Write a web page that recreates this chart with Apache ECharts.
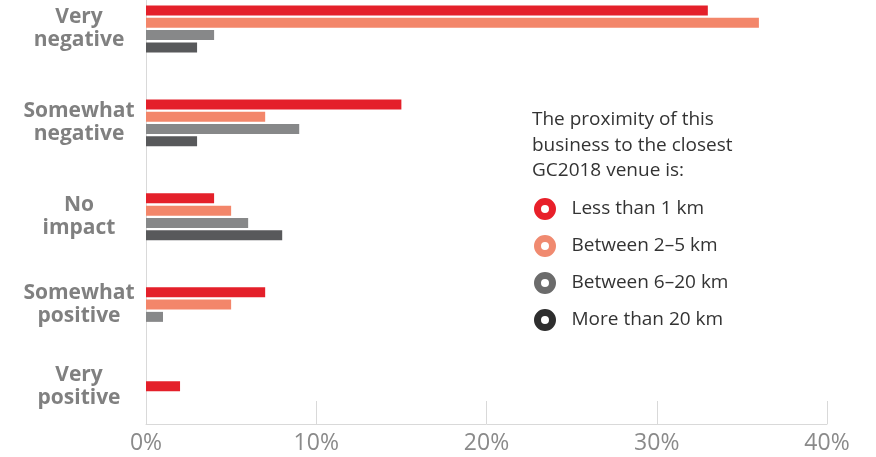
<!DOCTYPE html>
<html>
<head>
<meta charset="utf-8">
<script src="https://cdn.jsdelivr.net/npm/echarts@6/dist/echarts.min.js"></script>
<style>
  html, body { margin: 0; padding: 0; background: #fff; }
  #chart { width: 876px; height: 457px; }
</style>
</head>
<body>
<div id="chart"></div>
<script>
// Impact ratings, listed top to bottom
const categories = ['Very\nnegative', 'Somewhat\nnegative', 'No\nimpact', 'Somewhat\npositive', 'Very\npositive'];

// Share of businesses (%) by distance to the closest venue
const lessThan1km = [33, 15, 4, 7, 2];
const between2to5km = [36, 7, 5, 5, null];
const between6to20km = [4, 9, 6, 1, null];
const moreThan20km = [3, 3, 8, null, null];

const seriesNames = ['Less than 1 km', 'Between 2\u20135 km', 'Between 6\u201320 km', 'More than 20 km'];
const xTicks = [0, 10, 20, 30, 40];

const legendTitle = 'The proximity of this\nbusiness to the closest\nGC2018 venue is:';

const barColors = ['#e4202a', '#f3866a', '#878889', '#58595b'];
const ringColors = ['#e8202a', '#f08a70', '#6b6b6b', '#2e2e2e'];

const allSeries = [lessThan1km, between2to5km, between6to20km, moreThan20km];

const BAR_W = 10;
const BAR_PITCH = 12.3;
const LABEL_LINE = 23;

const labelFont = {
  align: 'center',
  verticalAlign: 'top',
  fontFamily: 'Open Sans',
  fontWeight: 'bold',
  fontSize: 21,
  lineHeight: LABEL_LINE,
  color: '#808080'
};

// Centre each two-line category label on the bars that are actually present
const yLabels = categories.map(function (c, i) {
  let present = 0;
  allSeries.forEach(function (s) { if (s[i] != null) present++; });
  const shift = (4 - present) / 2 * BAR_PITCH;
  return {
    value: c,
    textStyle: Object.assign({}, labelFont, { padding: [-(LABEL_LINE + shift), 0, 0, 0] })
  };
});

const chart = echarts.init(document.getElementById('chart'), null, { renderer: 'canvas' });

const option = {
  animation: false,
  backgroundColor: '#ffffff',
  title: {
    text: legendTitle,
    left: 532,
    top: 107,
    textStyle: {
      fontFamily: 'Open Sans',
      fontWeight: 'normal',
      fontSize: 19,
      lineHeight: 25.5,
      color: '#333333'
    },
    padding: 0
  },
  legend: {
    orient: 'vertical',
    left: 534,
    top: 198,
    icon: 'circle',
    itemWidth: 15,
    itemHeight: 15,
    itemGap: 15,
    padding: 0,
    textStyle: {
      fontFamily: 'Open Sans',
      fontSize: 19,
      lineHeight: 22,
      color: '#333333',
      padding: [0, 0, 0, 14]
    },
    data: seriesNames.map(function (n, i) {
      return {
        name: n,
        itemStyle: { color: '#ffffff', borderColor: ringColors[i], borderWidth: 7 }
      };
    })
  },
  grid: [
    // bars
    { left: 146, right: 49, top: -18, bottom: 5.4, outerBoundsMode: 'none', containLabel: false },
    // frame with the percentage scale
    { left: 146, right: 49, top: 0, bottom: 33, outerBoundsMode: 'none', containLabel: false }
  ],
  xAxis: [
    {
      gridIndex: 0,
      type: 'value',
      min: 0,
      max: 40,
      interval: 10,
      show: false
    },
    {
      gridIndex: 1,
      type: 'value',
      min: xTicks[0],
      max: xTicks[xTicks.length - 1],
      interval: 10,
      axisLine: { show: true, lineStyle: { color: '#d9d9d9', width: 1 } },
      axisTick: { show: true, inside: true, length: 23, lineStyle: { color: '#d9d9d9', width: 1 } },
      splitLine: { show: false },
      axisLabel: {
        margin: 8,
        formatter: '{value}%',
        fontFamily: 'Open Sans',
        fontSize: 23,
        color: '#8a8a8a'
      }
    }
  ],
  yAxis: [
    {
      gridIndex: 0,
      type: 'category',
      inverse: true,
      data: yLabels,
      axisLine: { show: false },
      axisTick: { show: false },
      splitLine: { show: false },
      axisLabel: Object.assign({ margin: 67 }, labelFont)
    },
    {
      gridIndex: 1,
      type: 'value',
      axisLine: { show: true, lineStyle: { color: '#d9d9d9', width: 1 } },
      axisTick: { show: false },
      axisLabel: { show: false },
      splitLine: { show: false }
    }
  ],
  series: allSeries.map(function (data, i) {
    return {
      name: seriesNames[i],
      type: 'bar',
      xAxisIndex: 0,
      yAxisIndex: 0,
      data: data,
      barWidth: BAR_W,
      barGap: '23%',
      itemStyle: { color: barColors[i] },
      z: 3
    };
  })
};

chart.setOption(option);
</script>
</body>
</html>
